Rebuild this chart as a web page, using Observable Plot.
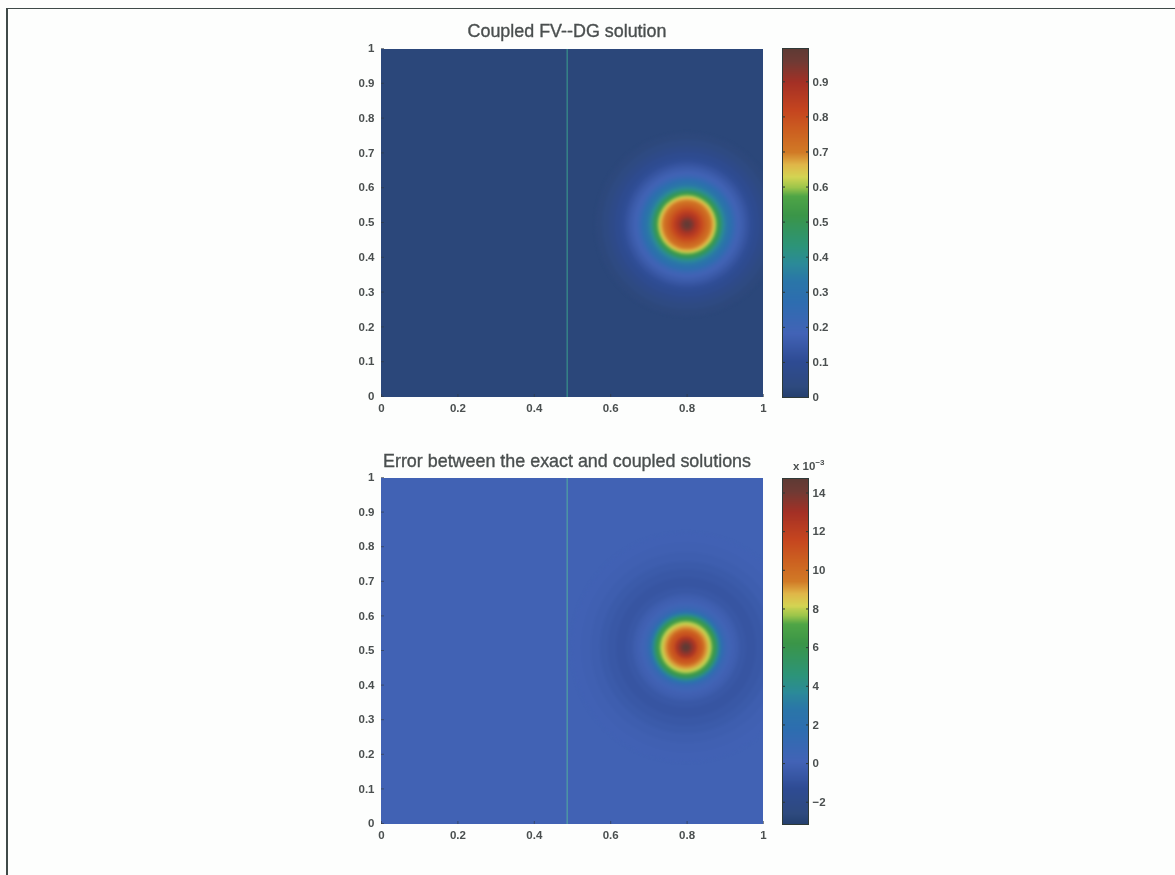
<!DOCTYPE html>
<html>
<head>
<meta charset="utf-8">
<script src="https://cdn.jsdelivr.net/npm/d3@7"></script>
<script src="https://cdn.jsdelivr.net/npm/@observablehq/plot@0.6"></script>
<style>
html,body{margin:0;padding:0;background:#fdfefd;}
#page{position:relative;width:1175px;height:875px;overflow:hidden;font-family:"Liberation Sans",Arial,sans-serif;color:#4a4f4f;}
#page>div.p{position:absolute;}
#page svg{background:transparent;overflow:visible;display:block;filter:blur(0.45px);}
.ttl{position:absolute;transform:translateX(-50%);white-space:nowrap;font-size:17.9px;line-height:20px;-webkit-text-stroke:0.35px #4a4f4f;filter:blur(0.35px);}
.bl{position:absolute;background:#3f4a48;}
.mult{position:absolute;font-size:11.5px;font-weight:bold;white-space:nowrap;filter:blur(0.3px);}
.mult sup{font-size:8px;line-height:0;}
</style>
</head>
<body>
<div id="page"></div>
<script>
// Readings, axis units for radius and solution values for the ramp
const solutionCenter = [0.80, 0.497];
const solutionRadius = [0.240,0.222,0.205,0.190,0.175,0.163,0.152,0.141,0.131,0.124,0.118,0.112,0.105,0.099,0.092,0.086,0.081,0.076,0.071,0.065,0.058,0.050,0.042,0.034,0.027,0.019,0.012,0.006];
const solutionValue  = [0.025,0.040,0.060,0.085,0.105,0.130,0.155,0.175,0.205,0.240,0.280,0.310,0.340,0.380,0.440,0.500,0.560,0.620,0.665,0.700,0.735,0.770,0.810,0.850,0.880,0.930,0.960,0.985];
const solutionBackground = 0.02;

const errorCenter = [0.797, 0.512];
const errorRadius = [0.300,0.275,0.250,0.225,0.205,0.183,0.157,0.140,0.130,0.118,0.110,0.102,0.096,0.090,0.085,0.079,0.073,0.067,0.058,0.050,0.041,0.029,0.020,0.011];
const errorValue  = [-0.03,-0.10,-0.20,-0.40,-0.60,-0.75,-0.60,-0.30,-0.10,0.20,0.50,1.00,2.00,3.20,4.50,6.00,7.00,8.00,9.00,10.0,11.0,12.5,13.5,14.6];
const errorBackground = 0.0;

// Shared colour ramp, as fractions of each colour bar
const rampStops  = [0,0.03,0.10,0.18,0.27,0.33,0.38,0.43,0.52,0.575,0.60,0.63,0.665,0.70,0.76,0.82,0.90,0.96,1];
const rampColors = ["#25406f","#2e4a7f","#2e4b93","#4263b6","#2d6db0","#2a76a8","#2b8a98","#2c9478","#3a9548","#4fa546","#9cc54a","#d3d452","#e0b648","#d17a26","#cc6020","#c5451f","#a43025","#6f3a34","#5c3a34"];

const solutionBar = {domain:[0,0.995], ticks:[0,0.1,0.2,0.3,0.4,0.5,0.6,0.7,0.8,0.9]};
const errorBar    = {domain:[-3.15,14.75], ticks:[-2,0,2,4,6,8,10,12,14]};

const axisTicks  = [0,0.2,0.4,0.6,0.8,1];
const yAxisTicks = [0,0.1,0.2,0.3,0.4,0.5,0.6,0.7,0.8,0.9,1];
const interfaceX = 0.486;
const titles = ["Coupled FV--DG solution","Error between the exact and coupled solutions"];

const page = document.getElementById("page");
const INK = "#4a4f4f";

function colorScale(d){
  return {type:"linear", clamp:true, interpolate:"rgb",
    domain: rampStops.map(f => d[0] + f*(d[1]-d[0])), range: rampColors};
}

function place(node,left,top){
  const w = document.createElement("div");
  w.className = "p"; w.style.left = left+"px"; w.style.top = top+"px";
  w.appendChild(node); page.appendChild(w);
}

function map(opts){
  const W = 382, ML = 41, MT = 10;
  const rings = opts.radius.map((r,i)=>({x:opts.center[0],y:opts.center[1],r,v:opts.value[i]}));
  const plot = Plot.plot({
    width: W+ML+3, height: opts.h+MT+26,
    marginLeft: ML, marginRight: 3, marginTop: MT, marginBottom: 26,
    style:{background:"transparent",fontFamily:"Liberation Sans, Arial, sans-serif"},
    x:{domain:[0,1],axis:null},
    y:{domain:[0,1],axis:null},
    r:{type:"linear",domain:[0,1],range:[0,W],clamp:false},
    color:colorScale(opts.bar.domain),
    marks:[
      Plot.rect([{v:opts.bg}],{x1:()=>0,x2:()=>1,y1:()=>0,y2:()=>1,fill:"v",inset:0}),
      Plot.dot(rings,{x:"x",y:"y",r:"r",fill:"v",stroke:null,sort:null,clip:true}),
      Plot.ruleX([interfaceX],{stroke:opts.line,strokeWidth:1.1}),
      Plot.axisX(axisTicks,{anchor:"bottom",label:null,tickSize:-3,tickPadding:9,stroke:"#30373a",strokeOpacity:0.6,fill:INK,fontSize:11.5,fontWeight:"bold",tickFormat:d=>String(d)}),
      Plot.axisY(yAxisTicks,{anchor:"left",label:null,tickSize:-3,tickPadding:10,stroke:"#30373a",strokeOpacity:0.6,fill:INK,fontSize:11.5,fontWeight:"bold",dy:-1,tickFormat:d=>String(d)})
    ]
  });
  const g = plot.querySelector('g[aria-label="dot"]');
  if (g) g.style.filter = "blur(1.6px)";
  place(plot,340,opts.top-MT);
}

function colorbar(opts){
  const [a,b] = opts.bar.domain, MT = 10;
  const n = 350, step = (b-a)/n;
  const levels = d3.range(n).map(i=>a+i*step);
  const plot = Plot.plot({
    width: 70, height: opts.h+MT+10,
    marginLeft: 1, marginRight: 43, marginTop: MT, marginBottom: 10,
    style:{background:"transparent",fontFamily:"Liberation Sans, Arial, sans-serif"},
    x:{domain:[0,1],axis:null},
    y:{domain:[a,b],axis:null},
    color:colorScale([a,b]),
    marks:[
      Plot.rect(levels,{x1:()=>0,x2:()=>1,y1:d=>d,y2:d=>d+step*1.5,fill:d=>d,shapeRendering:"crispEdges"}),
      Plot.axisY(opts.bar.ticks,{anchor:"left",label:null,tickSize:-3,tickPadding:-100,stroke:"#2b3a35",tickFormat:()=>""}),
      Plot.axisY(opts.bar.ticks,{anchor:"right",label:null,tickSize:-3,tickPadding:7,stroke:"#2b3a35",fill:INK,fontSize:11.5,fontWeight:"bold",
        tickFormat:d=>String(d).replace("-","\u2212")}),
      Plot.frame({stroke:"#2f3a38",strokeWidth:1})
    ]
  });
  place(plot,781,opts.top-MT);
}

map({top:48.5,h:348,center:solutionCenter,radius:solutionRadius,value:solutionValue,bg:solutionBackground,bar:solutionBar,line:"#3a9a8c"});
colorbar({top:48,h:349,bar:solutionBar});
map({top:478,h:346,center:errorCenter,radius:errorRadius,value:errorValue,bg:errorBackground,bar:errorBar,line:"#52a9a0"});
colorbar({top:478,h:346,bar:errorBar});

[[titles[0],21],[titles[1],451]].forEach(([t,y])=>{
  const d=document.createElement("div"); d.className="ttl"; d.textContent=t;
  d.style.left="567px"; d.style.top=y+"px"; page.appendChild(d);
});
const m=document.createElement("div"); m.className="mult"; m.innerHTML="x 10<sup>\u22123</sup>";
m.style.left="793px"; m.style.top="460px"; page.appendChild(m);

[[6,8,1169,1],[6,8,1.5,867]].forEach(([l,t,w,h])=>{
  const d=document.createElement("div"); d.className="bl";
  d.style.cssText=`left:${l}px;top:${t}px;width:${w}px;height:${h}px;`; page.appendChild(d);
});
</script>
</body>
</html>
